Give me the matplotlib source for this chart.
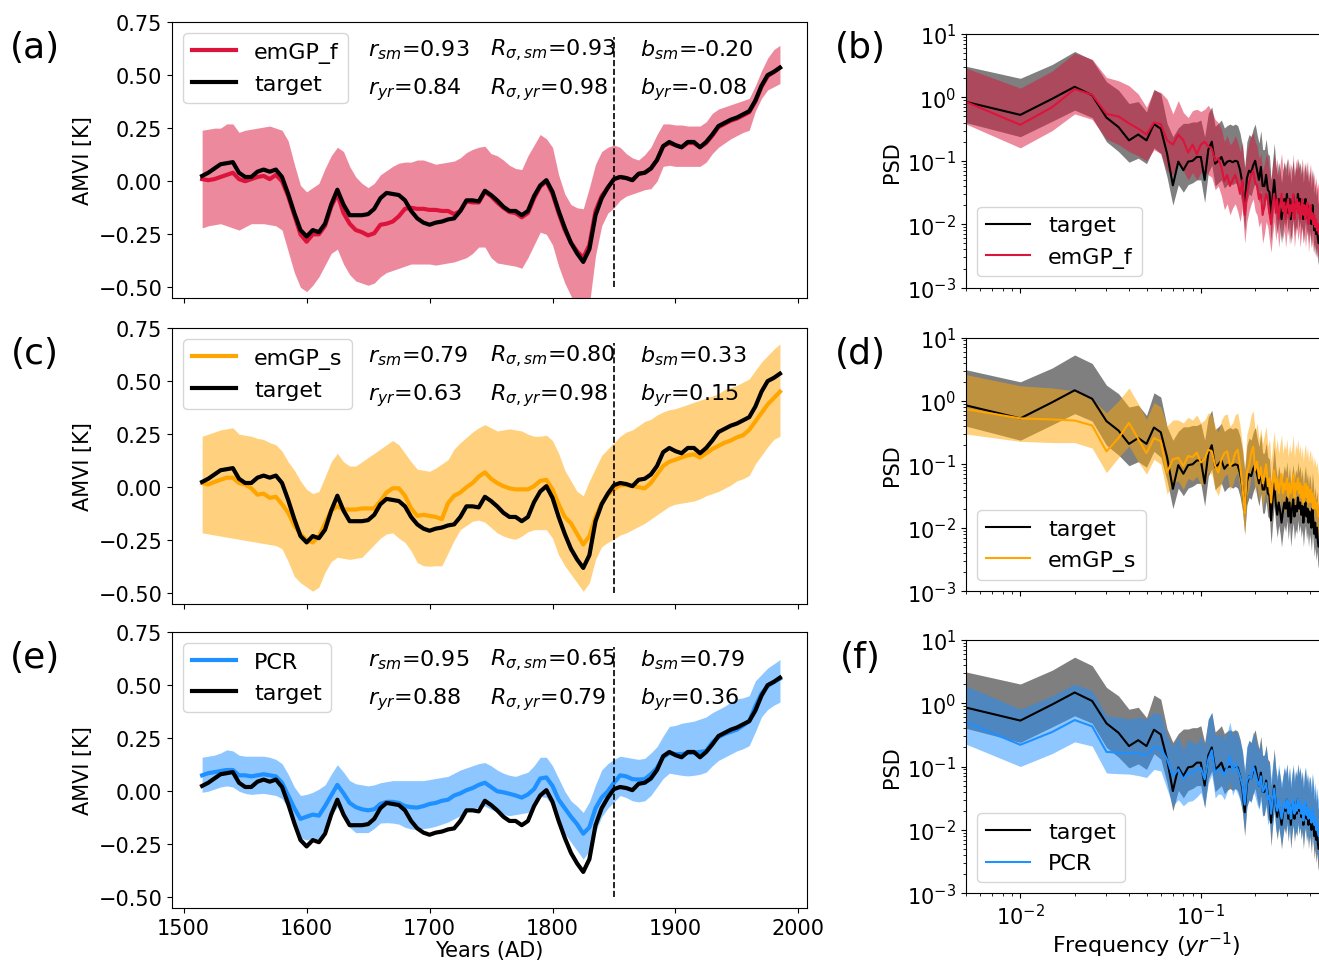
import numpy as np
import matplotlib
matplotlib.use('Agg')
import matplotlib.pyplot as plt

# ---- AMV index reconstructions, 5-yr steps 1515..1985 ----
years = np.arange(1515, 1986, 5)

target = [0.025, 0.04, 0.06, 0.08, 0.085, 0.09, 0.04, 0.02, 0.02, 0.045,
          0.055, 0.045, 0.055, 0.02, -0.06, -0.15, -0.23, -0.26, -0.23, -0.24,
          -0.20, -0.11, -0.04, -0.11, -0.16, -0.16, -0.16, -0.155, -0.13, -0.08,
          -0.055, -0.06, -0.065, -0.09, -0.14, -0.175, -0.195, -0.205, -0.195, -0.19,
          -0.18, -0.175, -0.14, -0.09, -0.09, -0.095, -0.045, -0.065, -0.09, -0.12,
          -0.14, -0.14, -0.16, -0.14, -0.07, -0.02, 0.005, -0.05, -0.14, -0.22,
          -0.29, -0.34, -0.38, -0.32, -0.16, -0.08, -0.03, 0.01, 0.02, 0.015,
          0.005, 0.035, 0.04, 0.06, 0.10, 0.165, 0.185, 0.17, 0.16, 0.185,
          0.185, 0.16, 0.185, 0.22, 0.26, 0.275, 0.29, 0.30, 0.315, 0.33,
          0.38, 0.45, 0.50, 0.515, 0.535]

emgp_f = [0.01, 0.005, 0.01, 0.02, 0.03, 0.04, 0.01, 0.0, 0.01, 0.02,
          0.025, 0.01, 0.03, 0.0, -0.07, -0.16, -0.25, -0.285, -0.25, -0.25,
          -0.21, -0.12, -0.06, -0.15, -0.20, -0.23, -0.24, -0.255, -0.245, -0.205,
          -0.20, -0.19, -0.165, -0.13, -0.125, -0.13, -0.13, -0.135, -0.135, -0.14,
          -0.14, -0.155, -0.14, -0.095, -0.10, -0.10, -0.05, -0.07, -0.10, -0.125,
          -0.145, -0.15, -0.17, -0.15, -0.08, -0.025, 0.0, -0.06, -0.15, -0.23,
          -0.29, -0.33, -0.36, -0.30, -0.14, -0.07, -0.03, 0.01, 0.02, 0.015,
          0.005, 0.035, 0.04, 0.06, 0.10, 0.165, 0.18, 0.17, 0.16, 0.18,
          0.18, 0.16, 0.18, 0.215, 0.255, 0.27, 0.285, 0.295, 0.31, 0.325,
          0.375, 0.445, 0.495, 0.515, 0.535]
emgp_f_hi = [0.24, 0.245, 0.25, 0.25, 0.27, 0.27, 0.23, 0.24, 0.245, 0.25,
             0.255, 0.26, 0.25, 0.24, 0.19, 0.08, -0.02, -0.05, -0.03, -0.01,
             0.06, 0.12, 0.16, 0.14, 0.07, 0.02, -0.01, -0.03, -0.01, 0.03,
             0.05, 0.07, 0.085, 0.09, 0.09, 0.10, 0.10, 0.09, 0.08, 0.085,
             0.09, 0.095, 0.11, 0.135, 0.15, 0.16, 0.165, 0.13, 0.12, 0.10,
             0.075, 0.06, 0.055, 0.12, 0.17, 0.22, 0.20, 0.16, 0.03, -0.06,
             -0.11, -0.125, -0.13, -0.03, 0.08, 0.14, 0.16, 0.17, 0.16, 0.13,
             0.11, 0.10, 0.125, 0.16, 0.22, 0.27, 0.27, 0.265, 0.265, 0.26,
             0.26, 0.26, 0.28, 0.32, 0.34, 0.35, 0.36, 0.37, 0.38, 0.39,
             0.45, 0.52, 0.58, 0.62, 0.64]
emgp_f_lo = [-0.22, -0.21, -0.205, -0.20, -0.21, -0.22, -0.23, -0.215, -0.20, -0.20,
             -0.20, -0.205, -0.21, -0.23, -0.33, -0.43, -0.50, -0.52, -0.49, -0.45,
             -0.395, -0.34, -0.32, -0.39, -0.44, -0.47, -0.48, -0.49, -0.48, -0.45,
             -0.43, -0.42, -0.41, -0.40, -0.39, -0.39, -0.39, -0.39, -0.395, -0.39,
             -0.385, -0.38, -0.37, -0.36, -0.34, -0.31, -0.31, -0.36, -0.385, -0.39,
             -0.395, -0.40, -0.41, -0.36, -0.30, -0.24, -0.25, -0.30, -0.40, -0.48,
             -0.54, -0.60, -0.66, -0.58, -0.35, -0.21, -0.15, -0.125, -0.09, -0.07,
             -0.06, -0.05, -0.04, -0.035, 0.0, 0.07, 0.075, 0.07, 0.07, 0.07,
             0.07, 0.07, 0.09, 0.13, 0.16, 0.18, 0.20, 0.215, 0.23, 0.24,
             0.33, 0.39, 0.43, 0.445, 0.46]

emgp_s = [0.02, 0.013, 0.025, 0.035, 0.045, 0.045, 0.02, 0.013, -0.005, -0.035,
          -0.03, -0.05, -0.045, -0.08, -0.12, -0.18, -0.22, -0.25, -0.26, -0.23,
          -0.17, -0.11, -0.09, -0.105, -0.105, -0.105, -0.10, -0.10, -0.10, -0.065,
          -0.025, -0.005, -0.005, -0.04, -0.10, -0.135, -0.13, -0.135, -0.14, -0.15,
          -0.075, -0.04, -0.025, 0.0, 0.02, 0.05, 0.07, 0.04, 0.02, 0.005,
          -0.005, -0.01, -0.01, -0.01, 0.005, 0.03, 0.035, -0.01, -0.08, -0.14,
          -0.17, -0.22, -0.27, -0.23, -0.14, -0.075, -0.035, -0.01, 0.01, 0.01,
          0.006, 0.0, -0.005, 0.02, 0.06, 0.10, 0.12, 0.13, 0.14, 0.15,
          0.155, 0.14, 0.16, 0.18, 0.195, 0.21, 0.22, 0.235, 0.245, 0.27,
          0.31, 0.35, 0.39, 0.42, 0.45]
emgp_s_hi = [0.24, 0.25, 0.26, 0.27, 0.275, 0.28, 0.25, 0.245, 0.24, 0.23,
             0.225, 0.21, 0.20, 0.17, 0.12, 0.08, 0.03, -0.01, -0.03, -0.02,
             0.05, 0.12, 0.16, 0.12, 0.10, 0.10, 0.12, 0.14, 0.16, 0.18,
             0.20, 0.22, 0.20, 0.16, 0.12, 0.085, 0.08, 0.075, 0.09, 0.11,
             0.13, 0.18, 0.21, 0.235, 0.26, 0.28, 0.295, 0.28, 0.265, 0.27,
             0.275, 0.27, 0.265, 0.25, 0.24, 0.24, 0.245, 0.22, 0.16, 0.08,
             0.03, -0.02, -0.04, 0.03, 0.09, 0.15, 0.18, 0.21, 0.24, 0.26,
             0.27, 0.29, 0.31, 0.32, 0.34, 0.355, 0.365, 0.37, 0.38, 0.39,
             0.40, 0.41, 0.42, 0.43, 0.44, 0.46, 0.47, 0.48, 0.495, 0.51,
             0.55, 0.59, 0.62, 0.65, 0.675]
emgp_s_lo = [-0.215, -0.22, -0.225, -0.23, -0.235, -0.24, -0.245, -0.25, -0.255, -0.26,
             -0.265, -0.27, -0.275, -0.29, -0.35, -0.42, -0.45, -0.47, -0.49, -0.47,
             -0.40, -0.35, -0.33, -0.335, -0.34, -0.335, -0.33, -0.30, -0.27, -0.24,
             -0.22, -0.215, -0.24, -0.26, -0.30, -0.355, -0.37, -0.372, -0.37, -0.37,
             -0.31, -0.25, -0.20, -0.18, -0.16, -0.155, -0.165, -0.19, -0.215, -0.23,
             -0.24, -0.245, -0.23, -0.21, -0.20, -0.20, -0.20, -0.24, -0.32, -0.37,
             -0.41, -0.45, -0.49, -0.45, -0.34, -0.28, -0.26, -0.245, -0.225, -0.215,
             -0.20, -0.185, -0.17, -0.15, -0.13, -0.11, -0.09, -0.08, -0.075, -0.07,
             -0.065, -0.055, -0.04, -0.03, -0.02, -0.005, 0.01, 0.03, 0.04, 0.055,
             0.11, 0.15, 0.19, 0.225, 0.24]

pcr = [0.075, 0.085, 0.09, 0.095, 0.10, 0.10, 0.075, 0.075, 0.07, 0.075,
       0.08, 0.075, 0.07, 0.04, -0.02, -0.08, -0.13, -0.12, -0.11, -0.115,
       -0.07, -0.02, 0.03, -0.01, -0.055, -0.075, -0.085, -0.09, -0.085, -0.06,
       -0.05, -0.05, -0.055, -0.07, -0.075, -0.077, -0.07, -0.06, -0.055, -0.045,
       -0.04, -0.02, -0.01, 0.005, 0.015, 0.03, 0.04, 0.02, 0.0, -0.005,
       -0.012, -0.02, -0.03, -0.015, 0.01, 0.06, 0.065, 0.025, -0.04, -0.08,
       -0.12, -0.155, -0.20, -0.17, -0.08, -0.03, 0.0, 0.04, 0.075, 0.07,
       0.057, 0.055, 0.057, 0.08, 0.11, 0.16, 0.18, 0.175, 0.175, 0.18,
       0.182, 0.185, 0.19, 0.23, 0.255, 0.27, 0.28, 0.29, 0.31, 0.33,
       0.40, 0.46, 0.495, 0.515, 0.53]
pcr_hi = [0.16, 0.165, 0.17, 0.18, 0.195, 0.19, 0.17, 0.165, 0.165, 0.165,
          0.165, 0.16, 0.15, 0.13, 0.08, 0.02, -0.02, -0.015, -0.005, 0.01,
          0.03, 0.08, 0.125, 0.09, 0.05, 0.035, 0.03, 0.025, 0.03, 0.04,
          0.045, 0.05, 0.05, 0.05, 0.05, 0.05, 0.05, 0.055, 0.06, 0.065,
          0.07, 0.085, 0.10, 0.11, 0.12, 0.13, 0.135, 0.12, 0.10, 0.085,
          0.075, 0.07, 0.08, 0.09, 0.12, 0.16, 0.16, 0.12, 0.06, 0.0,
          -0.045, -0.07, -0.10, -0.05, 0.03, 0.10, 0.13, 0.15, 0.165, 0.16,
          0.155, 0.15, 0.155, 0.18, 0.21, 0.26, 0.305, 0.31, 0.32, 0.325,
          0.33, 0.34, 0.35, 0.37, 0.385, 0.40, 0.42, 0.435, 0.44, 0.45,
          0.52, 0.55, 0.58, 0.60, 0.62]
pcr_lo = [-0.005, 0.0, 0.01, 0.02, 0.025, 0.02, 0.0, -0.01, -0.015, -0.012,
          -0.01, -0.015, -0.02, -0.035, -0.08, -0.15, -0.22, -0.23, -0.22, -0.225,
          -0.17, -0.11, -0.075, -0.12, -0.17, -0.195, -0.195, -0.195, -0.175, -0.15,
          -0.148, -0.15, -0.155, -0.17, -0.178, -0.18, -0.176, -0.172, -0.165, -0.155,
          -0.145, -0.13, -0.115, -0.10, -0.085, -0.075, -0.07, -0.085, -0.10, -0.11,
          -0.115, -0.11, -0.105, -0.10, -0.07, -0.025, -0.03, -0.07, -0.14, -0.20,
          -0.24, -0.28, -0.32, -0.28, -0.19, -0.12, -0.08, -0.05, -0.02, -0.03,
          -0.045, -0.05, -0.045, -0.02, 0.02, 0.06, 0.085, 0.08, 0.075, 0.072,
          0.075, 0.08, 0.09, 0.12, 0.145, 0.16, 0.175, 0.19, 0.20, 0.215,
          0.28, 0.35, 0.385, 0.405, 0.42]

# ---- power spectral densities, frequency step 0.005 1/yr ----
freq = np.arange(1, 93) * 0.005

psd_target = [0.85, 0.53, 0.95, 1.47, 1.08, 0.48, 0.34, 0.21, 0.26, 0.21,
              0.38, 0.32, 0.13, 0.041, 0.097, 0.071, 0.097, 0.10, 0.115, 0.115,
              0.05, 0.15, 0.20, 0.09, 0.10, 0.115, 0.085, 0.097, 0.10, 0.095,
              0.10, 0.097, 0.071, 0.044, 0.019, 0.053, 0.07, 0.065, 0.085, 0.10,
              0.07, 0.05, 0.08, 0.04, 0.04, 0.06, 0.035, 0.032, 0.013, 0.028,
              0.05, 0.025, 0.016, 0.025, 0.018, 0.012, 0.018, 0.025, 0.02, 0.03,
              0.015, 0.025, 0.012, 0.02, 0.028, 0.015, 0.022, 0.018, 0.03, 0.02,
              0.025, 0.016, 0.022, 0.012, 0.02, 0.025, 0.015, 0.02, 0.012, 0.018,
              0.015, 0.01, 0.02, 0.013, 0.008, 0.012, 0.007, 0.01, 0.006, 0.005,
              0.006, 0.005]
psd_target_hi = [3.1, 2.0, 3.3, 5.3, 3.9, 1.77, 1.3, 0.8, 0.86, 0.59,
                 1.34, 1.15, 0.39, 0.24, 0.33, 0.39, 0.39, 0.41, 0.41, 0.44,
                 0.24, 0.56, 0.71, 0.35, 0.39, 0.44, 0.33, 0.36, 0.38, 0.36,
                 0.38, 0.36, 0.27, 0.17, 0.08, 0.20, 0.26, 0.24, 0.32, 0.38,
                 0.26, 0.19, 0.30, 0.15, 0.15, 0.22, 0.13, 0.12, 0.05, 0.10,
                 0.19, 0.095, 0.06, 0.095, 0.07, 0.045, 0.07, 0.095, 0.075, 0.11,
                 0.057, 0.095, 0.045, 0.075, 0.10, 0.057, 0.083, 0.07, 0.11, 0.075,
                 0.095, 0.06, 0.083, 0.045, 0.075, 0.095, 0.057, 0.075, 0.045, 0.07,
                 0.057, 0.038, 0.075, 0.05, 0.03, 0.045, 0.027, 0.038, 0.023, 0.02,
                 0.023, 0.02]
psd_target_lo = [0.40, 0.24, 0.42, 0.63, 0.48, 0.20, 0.14, 0.095, 0.11, 0.09,
                 0.16, 0.13, 0.055, 0.02, 0.042, 0.032, 0.042, 0.045, 0.05, 0.05,
                 0.022, 0.065, 0.085, 0.04, 0.045, 0.05, 0.037, 0.042, 0.045, 0.042,
                 0.045, 0.042, 0.031, 0.019, 0.008, 0.023, 0.03, 0.028, 0.037, 0.045,
                 0.03, 0.022, 0.035, 0.017, 0.017, 0.026, 0.015, 0.014, 0.0055, 0.012,
                 0.022, 0.011, 0.007, 0.011, 0.008, 0.005, 0.008, 0.011, 0.0085, 0.013,
                 0.0065, 0.011, 0.005, 0.0085, 0.012, 0.0065, 0.0095, 0.008, 0.013, 0.0085,
                 0.011, 0.007, 0.0095, 0.005, 0.0085, 0.011, 0.0065, 0.0085, 0.005, 0.008,
                 0.0065, 0.0043, 0.0085, 0.0056, 0.0035, 0.005, 0.003, 0.0043, 0.0026, 0.0022,
                 0.0026, 0.0022]

psd_f = [0.85, 0.37, 0.70, 1.35, 1.10, 0.55, 0.50, 0.39, 0.32, 0.26,
         0.40, 0.38, 0.21, 0.18, 0.26, 0.21, 0.135, 0.18, 0.127, 0.18,
         0.20, 0.17, 0.155, 0.10, 0.11, 0.079, 0.048, 0.06, 0.04, 0.05,
         0.06, 0.045, 0.03, 0.05, 0.014, 0.03, 0.045, 0.06, 0.07, 0.045,
         0.04, 0.025, 0.03, 0.014, 0.02, 0.03, 0.025, 0.015, 0.01, 0.02,
         0.03, 0.015, 0.025, 0.012, 0.02, 0.03, 0.016, 0.022, 0.012, 0.02,
         0.025, 0.013, 0.02, 0.016, 0.03, 0.012, 0.02, 0.025, 0.015, 0.022,
         0.012, 0.018, 0.025, 0.014, 0.02, 0.012, 0.018, 0.022, 0.01, 0.016,
         0.02, 0.012, 0.015, 0.01, 0.014, 0.009, 0.012, 0.008, 0.01, 0.007,
         0.008, 0.006]
psd_f_hi = [2.9, 1.4, 2.6, 5.0, 4.0, 2.07, 1.83, 1.53, 1.13, 0.70,
            1.3, 1.2, 0.94, 0.55, 0.89, 0.58, 0.48, 0.62, 0.65, 0.60,
            0.65, 0.75, 0.60, 0.45, 0.40, 0.32, 0.20, 0.25, 0.18, 0.20,
            0.25, 0.20, 0.14, 0.20, 0.07, 0.14, 0.20, 0.25, 0.28, 0.20,
            0.17, 0.11, 0.13, 0.07, 0.09, 0.13, 0.11, 0.07, 0.05, 0.09,
            0.13, 0.07, 0.11, 0.055, 0.09, 0.13, 0.07, 0.10, 0.055, 0.09,
            0.11, 0.06, 0.09, 0.07, 0.13, 0.055, 0.09, 0.11, 0.07, 0.10,
            0.055, 0.08, 0.11, 0.065, 0.09, 0.055, 0.08, 0.10, 0.045, 0.07,
            0.09, 0.055, 0.07, 0.045, 0.065, 0.04, 0.055, 0.037, 0.045, 0.032,
            0.037, 0.028]
psd_f_lo = [0.38, 0.16, 0.30, 0.55, 0.45, 0.22, 0.18, 0.14, 0.12, 0.10,
            0.15, 0.13, 0.07, 0.06, 0.09, 0.07, 0.05, 0.065, 0.05, 0.065,
            0.07, 0.06, 0.055, 0.035, 0.04, 0.028, 0.017, 0.021, 0.014, 0.018,
            0.021, 0.016, 0.011, 0.018, 0.005, 0.011, 0.016, 0.021, 0.025, 0.016,
            0.014, 0.009, 0.011, 0.005, 0.007, 0.011, 0.009, 0.0055, 0.0036, 0.007,
            0.011, 0.0055, 0.009, 0.0043, 0.007, 0.011, 0.0058, 0.008, 0.0043, 0.007,
            0.009, 0.0047, 0.007, 0.0058, 0.011, 0.0043, 0.007, 0.009, 0.0055, 0.008,
            0.0043, 0.0065, 0.009, 0.005, 0.007, 0.0043, 0.0065, 0.008, 0.0036, 0.0058,
            0.007, 0.0043, 0.0055, 0.0036, 0.005, 0.0032, 0.0043, 0.0029, 0.0036, 0.0025,
            0.0029, 0.0022]

psd_s = [0.74, 0.53, 0.51, 0.49, 0.41, 0.16, 0.26, 0.45, 0.25, 0.15,
         0.26, 0.23, 0.074, 0.12, 0.127, 0.094, 0.135, 0.13, 0.153, 0.107,
         0.12, 0.17, 0.16, 0.094, 0.074, 0.12, 0.15, 0.16, 0.094, 0.107,
         0.15, 0.17, 0.094, 0.045, 0.017, 0.075, 0.094, 0.15, 0.19, 0.08,
         0.11, 0.06, 0.09, 0.05, 0.07, 0.10, 0.045, 0.06, 0.025, 0.05,
         0.08, 0.04, 0.06, 0.035, 0.05, 0.07, 0.035, 0.05, 0.04, 0.06,
         0.03, 0.05, 0.035, 0.045, 0.07, 0.03, 0.05, 0.04, 0.06, 0.035,
         0.05, 0.03, 0.045, 0.025, 0.04, 0.05, 0.03, 0.045, 0.025, 0.035,
         0.04, 0.025, 0.035, 0.02, 0.03, 0.025, 0.02, 0.025, 0.018, 0.015,
         0.018, 0.015]
psd_s_hi = [2.6, 1.73, 1.6, 1.44, 1.06, 0.65, 1.0, 1.6, 0.9, 0.51,
            0.94, 0.8, 0.40, 0.50, 0.50, 0.45, 0.55, 0.50, 0.60, 0.45,
            0.50, 0.65, 0.60, 0.40, 0.32, 0.50, 0.60, 0.62, 0.40, 0.45,
            0.60, 0.65, 0.40, 0.20, 0.08, 0.30, 0.40, 0.60, 0.70, 0.33,
            0.45, 0.25, 0.37, 0.21, 0.29, 0.40, 0.19, 0.25, 0.11, 0.21,
            0.33, 0.17, 0.25, 0.15, 0.21, 0.29, 0.15, 0.21, 0.17, 0.25,
            0.13, 0.21, 0.15, 0.19, 0.29, 0.13, 0.21, 0.17, 0.25, 0.15,
            0.21, 0.13, 0.19, 0.11, 0.17, 0.21, 0.13, 0.19, 0.11, 0.15,
            0.17, 0.11, 0.15, 0.09, 0.13, 0.11, 0.09, 0.11, 0.08, 0.065,
            0.08, 0.065]
psd_s_lo = [0.30, 0.23, 0.22, 0.22, 0.18, 0.074, 0.128, 0.195, 0.11, 0.07,
            0.12, 0.10, 0.034, 0.05, 0.055, 0.04, 0.06, 0.055, 0.065, 0.047,
            0.05, 0.075, 0.07, 0.04, 0.032, 0.05, 0.065, 0.07, 0.04, 0.047,
            0.065, 0.075, 0.04, 0.019, 0.0075, 0.032, 0.04, 0.065, 0.08, 0.035,
            0.047, 0.026, 0.039, 0.021, 0.03, 0.043, 0.019, 0.026, 0.011, 0.021,
            0.035, 0.017, 0.026, 0.015, 0.021, 0.03, 0.015, 0.021, 0.017, 0.026,
            0.013, 0.021, 0.015, 0.019, 0.03, 0.013, 0.021, 0.017, 0.026, 0.015,
            0.021, 0.013, 0.019, 0.011, 0.017, 0.021, 0.013, 0.019, 0.011, 0.015,
            0.017, 0.011, 0.015, 0.0085, 0.013, 0.011, 0.0085, 0.011, 0.0077, 0.0065,
            0.0077, 0.0065]

psd_p = [0.50, 0.22, 0.35, 0.54, 0.43, 0.17, 0.165, 0.16, 0.165, 0.15,
         0.20, 0.19, 0.13, 0.07, 0.09, 0.063, 0.08, 0.078, 0.09, 0.095,
         0.063, 0.13, 0.18, 0.078, 0.09, 0.088, 0.072, 0.10, 0.147, 0.085,
         0.11, 0.09, 0.07, 0.05, 0.025, 0.06, 0.07, 0.065, 0.10, 0.08,
         0.06, 0.05, 0.07, 0.04, 0.045, 0.055, 0.03, 0.035, 0.018, 0.03,
         0.045, 0.025, 0.02, 0.03, 0.02, 0.015, 0.02, 0.028, 0.022, 0.03,
         0.018, 0.028, 0.015, 0.022, 0.03, 0.018, 0.025, 0.02, 0.03, 0.022,
         0.028, 0.018, 0.024, 0.014, 0.022, 0.028, 0.017, 0.022, 0.015, 0.02,
         0.018, 0.013, 0.022, 0.015, 0.012, 0.016, 0.01, 0.013, 0.009, 0.008,
         0.009, 0.008]
psd_p_hi = [1.87, 0.80, 1.3, 2.0, 1.57, 0.63, 0.60, 0.56, 0.60, 0.56,
            0.71, 0.67, 0.30, 0.21, 0.30, 0.18, 0.27, 0.24, 0.23, 0.30,
            0.20, 0.56, 0.71, 0.30, 0.32, 0.33, 0.27, 0.35, 0.50, 0.30,
            0.38, 0.32, 0.25, 0.18, 0.09, 0.21, 0.25, 0.23, 0.35, 0.28,
            0.21, 0.18, 0.25, 0.14, 0.16, 0.20, 0.11, 0.12, 0.065, 0.11,
            0.16, 0.09, 0.07, 0.11, 0.07, 0.055, 0.07, 0.10, 0.08, 0.11,
            0.065, 0.10, 0.055, 0.08, 0.11, 0.065, 0.09, 0.07, 0.11, 0.08,
            0.10, 0.065, 0.085, 0.05, 0.08, 0.10, 0.06, 0.08, 0.055, 0.07,
            0.065, 0.047, 0.08, 0.055, 0.043, 0.057, 0.036, 0.047, 0.032, 0.029,
            0.032, 0.029]
psd_p_lo = [0.225, 0.10, 0.16, 0.245, 0.21, 0.079, 0.077, 0.076, 0.072, 0.067,
            0.09, 0.085, 0.044, 0.024, 0.03, 0.024, 0.028, 0.029, 0.033, 0.039,
            0.024, 0.055, 0.075, 0.032, 0.037, 0.036, 0.03, 0.04, 0.06, 0.035,
            0.045, 0.037, 0.029, 0.021, 0.01, 0.025, 0.029, 0.027, 0.041, 0.033,
            0.025, 0.021, 0.029, 0.016, 0.019, 0.023, 0.012, 0.014, 0.0075, 0.012,
            0.019, 0.01, 0.008, 0.012, 0.008, 0.006, 0.008, 0.012, 0.009, 0.012,
            0.0075, 0.012, 0.006, 0.009, 0.012, 0.0075, 0.01, 0.008, 0.012, 0.009,
            0.012, 0.0075, 0.01, 0.0058, 0.009, 0.012, 0.007, 0.009, 0.006, 0.008,
            0.0075, 0.0054, 0.009, 0.006, 0.005, 0.0065, 0.0041, 0.0054, 0.0037, 0.0033,
            0.0037, 0.0033]

# skill scores printed in each row: (r, R_sigma, bias) for smoothed / annual
scores_sm = [('0.93', '0.93', '-0.20'), ('0.79', '0.80', '0.33'), ('0.95', '0.65', '0.79')]
scores_yr = [('0.84', '0.98', '-0.08'), ('0.63', '0.98', '0.15'), ('0.88', '0.79', '0.36')]

names = ['emGP_f', 'emGP_s', 'PCR']
colors = ['crimson', 'orange', 'dodgerblue']
ts_mean = [emgp_f, emgp_s, pcr]
ts_lo = [emgp_f_lo, emgp_s_lo, pcr_lo]
ts_hi = [emgp_f_hi, emgp_s_hi, pcr_hi]
ps_mean = [psd_f, psd_s, psd_p]
ps_lo = [psd_f_lo, psd_s_lo, psd_p_lo]
ps_hi = [psd_f_hi, psd_s_hi, psd_p_hi]
letters = [('(a)', '(b)'), ('(c)', '(d)'), ('(e)', '(f)')]

W, H = 1319, 962
fig = plt.figure(figsize=(W / 100, H / 100), dpi=100)

ts_tops = [23, 329, 633]
ps_tops = [35, 338.5, 640.7]

for i in range(3):
    c = colors[i]
    # time series panel
    ax = fig.add_axes([172 / W, 1 - (ts_tops[i] + 276) / H, 635 / W, 276 / H])
    ax.fill_between(years, ts_lo[i], ts_hi[i], color=c, alpha=0.5, lw=0)
    ax.plot(years, ts_mean[i], color=c, lw=3, label=names[i])
    ax.plot(years, target, color='k', lw=3, label='target')
    ax.vlines(1850, -0.5, 0.68, colors='k', linestyles='--', lw=1.2)
    ax.set_xlim(1490.5, 2007)
    ax.set_ylim(-0.55, 0.75)
    ax.set_yticks([-0.5, -0.25, 0, 0.25, 0.5, 0.75])
    ax.set_xticks([1500, 1600, 1700, 1800, 1900, 2000])
    ax.tick_params(labelsize=15)
    ax.set_ylabel('AMVI [K]', fontsize=15)
    ax.legend(loc='upper left', fontsize=16)
    sm, yr = scores_sm[i], scores_yr[i]
    ax.text(1650, 0.595, r'$r_{sm}$=' + sm[0], fontsize=16)
    ax.text(1749, 0.595, r'$R_{\sigma,sm}$=' + sm[1], fontsize=16)
    ax.text(1871, 0.595, r'$b_{sm}$=' + sm[2], fontsize=16)
    ax.text(1650, 0.415, r'$r_{yr}$=' + yr[0], fontsize=16)
    ax.text(1749, 0.415, r'$R_{\sigma,yr}$=' + yr[1], fontsize=16)
    ax.text(1871, 0.415, r'$b_{yr}$=' + yr[2], fontsize=16)
    if i < 2:
        ax.tick_params(labelbottom=False)
    else:
        ax.set_xlabel('Years (AD)', fontsize=15, labelpad=2)

    # spectrum panel
    bx = fig.add_axes([966 / W, 1 - (ps_tops[i] + 253.6) / H, 361 / W, 253.6 / H])
    bx.fill_between(freq, psd_target_lo, psd_target_hi, color='k', alpha=0.5, lw=0)
    bx.fill_between(freq, ps_lo[i], ps_hi[i], color=c, alpha=0.5, lw=0)
    bx.plot(freq, psd_target, color='k', lw=1.5, label='target')
    bx.plot(freq, ps_mean[i], color=c, lw=1.5, label=names[i])
    bx.set_xscale('log')
    bx.set_yscale('log')
    bx.set_xlim(0.005, 0.5)
    bx.set_ylim(1e-3, 1e1)
    bx.tick_params(labelsize=15)
    bx.set_ylabel('PSD', fontsize=15)
    bx.legend(loc='lower left', fontsize=16)
    if i < 2:
        bx.tick_params(labelbottom=False)
    else:
        bx.set_xlabel('Frequency ($yr^{-1}$)', fontsize=16, labelpad=1)

    fig.text(35 / W, 1 - (ts_tops[i] + 25) / H, letters[i][0], fontsize=26,
             ha='center', va='center')
    fig.text(860 / W, 1 - (ts_tops[i] + 25) / H, letters[i][1], fontsize=26,
             ha='center', va='center')

fig.savefig('out.png', dpi=100)
